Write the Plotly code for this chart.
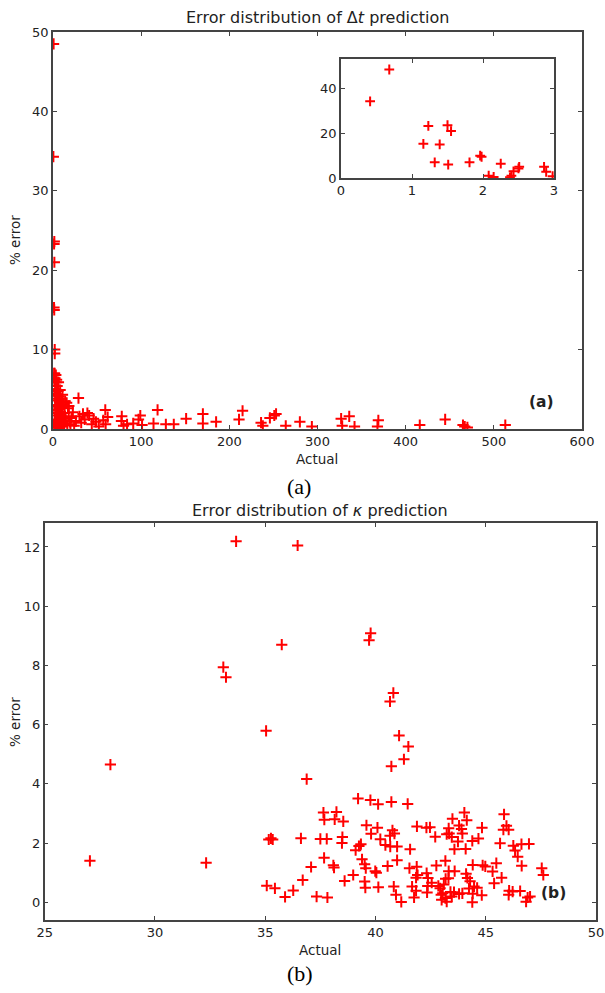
import plotly.graph_objects as go

# ---- Panel (a): Δt prediction error ----
dt_actual = [0.41, 0.68, 1.16, 1.23, 1.32, 1.39, 1.50, 1.51, 1.55, 1.81, 1.96, 1.98, 2.08, 2.15,
             2.25, 2.38, 2.40, 2.43, 2.50, 2.51, 2.86, 2.89, 2.98,
             3.2, 3.5, 3.8, 4.1, 4.4, 4.7, 5.0, 5.3, 5.6, 5.9, 6.2, 6.5, 6.8, 7.1, 7.4, 7.8, 8.1,
             8.5, 8.9, 9.3, 9.8, 10.2, 10.8, 11.3, 11.9, 12.5, 13.1, 13.8, 14.5, 15.5, 16.2, 17.0,
             17.8, 18.0, 19.0, 19.8, 21.0, 22.5, 24.0, 26.0, 28.9, 30.0, 32.0, 34.0, 36.0, 39.0,
             41.0, 44.0, 46.0, 48.7, 52.0, 57.0, 59.3, 59.7, 62.0, 77.6, 78.0, 80.0, 84.0, 91.0,
             97.0, 99.0, 101.0, 114.0, 118.6, 128.0, 137.0, 151.0, 170.0, 170.0, 185.0, 211.0,
             215.0, 236.0, 238.0, 246.0, 251.0, 253.0, 264.0, 280.0, 293.6, 326.8, 328.0, 336.0,
             342.0, 368.0, 369.0, 416.0, 444.8, 465.0, 467.0, 470.0, 513.0,
             3.4, 4.0, 4.6, 5.2, 6.0, 6.6, 7.2, 8.0, 9.0, 3.1, 3.6, 4.3, 5.5, 6.3, 7.6]
dt_error = [34.3, 48.5, 15.3, 23.3, 7.0, 15.0, 23.6, 6.0, 21.0, 7.0, 10.0, 9.5, 1.0, 0.5,
            6.4, 0.3, 1.0, 3.0, 4.3, 5.0, 5.0, 2.8, 0.8,
            6.8, 5.9, 4.2, 6.2, 2.5, 5.4, 3.6, 1.2, 4.8, 0.6, 5.9, 2.9, 4.1, 1.8, 3.4, 0.4, 4.9,
            2.2, 1.0, 3.8, 0.3, 2.7, 4.3, 1.5, 3.1, 0.7, 2.0, 3.5, 1.1, 3.3, 0.5, 2.6,
            1.6, 2.9, 0.9, 0.6, 1.4, 2.1, 0.4, 1.0, 3.9, 1.6, 0.8, 1.9, 1.2, 2.0,
            1.7, 0.6, 1.3, 0.9, 0.3, 1.1, 2.4, 0.6, 1.5, 1.0, 1.6, 0.4, 0.6, 0.7,
            1.2, 1.7, 0.5, 0.7, 2.4, 0.6, 0.6, 1.3, 1.9, 0.7, 0.9, 1.2,
            2.3, 0.8, 0.4, 1.4, 1.7, 1.9, 0.4, 0.9, 0.3, 1.3, 0.4, 1.6,
            0.3, 0.3, 1.1, 0.5, 1.2, 0.5, 0.3, 0.2, 0.5,
            1.0, 0.2, 3.0, 0.8, 2.0, 0.1, 1.4, 2.6, 1.9, 4.5, 1.7, 0.4, 2.3, 3.8, 0.2]

# ---- Panel (b): κ prediction error ----
k_actual = [27.05, 27.98, 32.32, 33.10, 33.22, 33.68, 35.04, 35.07, 35.16, 35.26, 35.34, 35.44,
            35.75, 35.90, 36.27, 36.47, 36.62, 36.70, 36.88, 37.08, 37.33, 37.50, 37.64, 37.67,
            37.68, 37.79, 37.82, 38.09, 38.12, 38.15, 38.23, 38.48, 38.50, 38.54, 38.60, 38.99,
            39.10, 39.21, 39.25, 39.34, 39.39, 39.51, 39.51, 39.54, 39.56, 39.59, 39.71, 39.77,
            39.78, 39.80, 39.99, 40.04, 40.09, 40.12, 40.13, 40.22, 40.45, 40.55, 40.66, 40.66,
            40.67, 40.72, 40.72, 40.77, 40.81, 40.83, 40.86, 40.93, 40.98, 40.98, 41.07, 41.17,
            41.29, 41.46, 41.49, 41.54, 41.57, 41.66, 41.75, 41.84, 41.84, 41.87, 41.88, 41.91,
            42.31, 42.32, 42.34, 42.37, 42.38, 42.47, 42.55, 42.71, 42.76, 42.85, 42.93, 42.98,
            43.00, 43.05, 43.10, 43.17, 43.17, 43.18, 43.23, 43.23, 43.31, 43.32, 43.32, 43.34,
            43.40, 43.46, 43.46, 43.49, 43.56, 43.58, 43.59, 43.74, 43.79, 43.79, 43.90, 43.94,
            43.94, 44.03, 44.09, 44.11, 44.14, 44.17, 44.24, 44.29, 44.39, 44.39, 44.41, 44.41,
            44.47, 44.61, 44.67, 44.82, 44.83, 44.86, 44.98, 45.31, 45.38, 45.48, 45.65, 45.72,
            45.80, 45.83, 45.94, 46.04, 46.04, 46.06, 46.22, 46.25, 46.33, 46.45, 46.56, 46.62,
            46.63, 46.83, 46.90, 46.96, 47.01, 47.54, 47.61]
k_error = [1.40, 4.65, 1.33, 7.94, 7.60, 12.19, 5.79, 0.56, 2.12, 2.16, 2.12, 0.47,
           8.70, 0.18, 0.40, 12.05, 2.16, 0.75, 4.16, 1.19, 0.19, 2.14, 3.03, 1.50,
           2.79, 2.14, 0.16, 1.25, 1.17, 2.80, 3.05, 2.00, 2.20, 2.73, 0.72, 0.92,
           1.76, 3.50, 1.90, 1.96, 1.45, 1.28, 0.70, 0.49, 1.15, 2.60, 8.85, 3.45,
           9.09, 2.31, 1.05, 1.00, 2.52, 3.31, 0.51, 2.13, 1.93, 1.22, 2.25, 6.78,
           1.88, 4.59, 3.39, 2.43, 7.07, 0.53, 2.32, 0.25, 1.88, 1.42, 5.63, 0.01,
           4.83, 3.32, 5.26, 1.15, 1.79, 0.53, 0.16, 0.83, 0.39, 1.20, 2.56, 0.92,
           2.52, 0.98, 0.33, 0.55, 0.82, 2.53, 0.66, 2.21, 1.24, 0.55, 0.47, 0.25,
           0.08, 0.30, 0.60, 1.40, 0.14, 0.79, 0.02, 2.30, 0.81, 1.05, 2.50, 2.32,
           0.35, 0.19, 2.20, 2.82, 0.34, 1.79, 1.05, 2.05, 2.59, 0.28, 2.47, 2.32,
           0.30, 3.03, 1.80, 0.96, 2.77, 0.82, 0.46, 0.71, 0.00, 2.07, 1.26, 0.29,
           0.53, 0.49, 2.15, 0.24, 2.52, 1.25, 1.21, 1.04, 0.64, 1.32, 1.99, 0.83,
           2.45, 2.97, 2.58, 2.45, 0.25, 0.39, 0.36, 1.91, 1.75, 1.54, 0.38, 1.96,
           1.23, 0.02, 0.16, 1.97, 0.19, 1.15, 0.92]

a_xticks = [0, 100, 200, 300, 400, 500, 600]
a_yticks = [0, 10, 20, 30, 40, 50]
inset_xticks = [0, 1, 2, 3]
inset_yticks = [0, 20, 40]
b_xticks = [25, 30, 35, 40, 45, 50]
b_yticks = [0, 2, 4, 6, 8, 10, 12]

W, H = 605, 993
def px(x): return x / W
def py(y): return 1 - y / H

marker = dict(symbol="cross-thin", size=8, color="red", line=dict(color="red", width=2))

fig = go.Figure()
fig.add_trace(go.Scatter(x=dt_actual, y=dt_error, mode="markers", marker=marker,
                         xaxis="x", yaxis="y", showlegend=False))
fig.add_trace(go.Scatter(x=dt_actual, y=dt_error, mode="markers",
                         marker=dict(symbol="cross-thin", size=7, color="red",
                                     line=dict(color="red", width=2)),
                         xaxis="x2", yaxis="y2", showlegend=False))
fig.add_trace(go.Scatter(x=k_actual, y=k_error, mode="markers", marker=marker,
                         xaxis="x3", yaxis="y3", showlegend=False))

tickfont = dict(family="DejaVu Sans", size=13, color="#222")
axcommon = dict(showgrid=False, zeroline=False, showline=True, linecolor="#444", linewidth=1.5,
                ticks="inside", ticklen=4, tickcolor="#444", tickwidth=1, mirror="ticks",
                tickfont=tickfont, automargin=False)

fig.update_layout(
    width=W, height=H, margin=dict(l=0, r=0, t=0, b=0),
    paper_bgcolor="white", plot_bgcolor="white",
    xaxis=dict(domain=[px(53), px(582)], anchor="y", range=[0, 600], tickvals=a_xticks, **axcommon),
    yaxis=dict(domain=[py(429), py(32)], anchor="x", range=[0, 50], tickvals=a_yticks, **axcommon),
    xaxis2=dict(domain=[px(341), px(554)], anchor="y2", range=[0, 3], tickvals=inset_xticks, **axcommon),
    yaxis2=dict(domain=[py(178), py(59)], anchor="x2", range=[0, 53.2], tickvals=inset_yticks, **axcommon),
    xaxis3=dict(domain=[px(44.7), px(596)], anchor="y3", range=[25, 50], tickvals=b_xticks, **axcommon),
    yaxis3=dict(domain=[py(920), py(523.3)], anchor="x3", range=[-0.6, 12.8], tickvals=b_yticks, **axcommon),
)

txt = dict(family="DejaVu Sans", size=16, color="#222")
lbl = dict(family="DejaVu Sans", size=13.5, color="#222")
anns = [
    dict(text="Error distribution of Δ<i>t</i> prediction", x=px(317), y=py(18), font=txt),
    dict(text="Error distribution of <i>κ</i> prediction", x=px(320), y=py(511), font=txt),
    dict(text="Actual", x=px(317), y=py(459), font=lbl),
    dict(text="Actual", x=px(320), y=py(950), font=lbl),
    dict(text="% error", x=px(15), y=py(240), font=lbl, textangle=-90),
    dict(text="% error", x=px(15), y=py(722), font=lbl, textangle=-90),
    dict(text="<b>(a)</b>", x=px(541), y=py(402), font=dict(family="DejaVu Sans", size=15.5, color="#222")),
    dict(text="<b>(b)</b>", x=px(553), y=py(893), font=dict(family="DejaVu Sans", size=15.5, color="#222")),
    dict(text="(a)", x=px(298.5), y=py(487), font=dict(family="Liberation Serif", size=22, color="black")),
    dict(text="(b)", x=px(300), y=py(973), font=dict(family="Liberation Serif", size=22, color="black")),
]
for a in anns:
    a.update(xref="paper", yref="paper", showarrow=False, xanchor="center", yanchor="middle")
fig.update_layout(annotations=anns)

fig.write_html("out.html")
